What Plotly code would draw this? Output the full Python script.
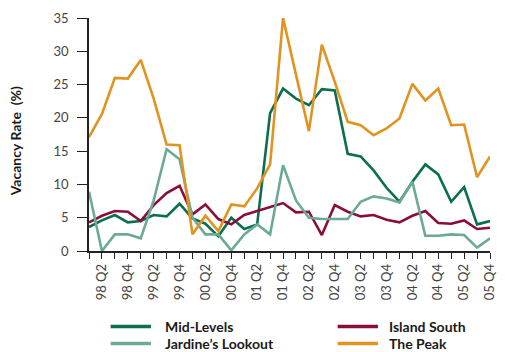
import plotly.graph_objects as go

# Quarterly periods 1998 Q1 .. 2005 Q4
quarters = [f"{y:02d} Q{q}" for y in (98, 99, 0, 1, 2, 3, 4, 5) for q in (1, 2, 3, 4)]

# Vacancy rates (%) by district
mid_levels = [3.6, 4.6, 5.4, 4.3, 4.5, 5.4, 5.2, 7.1,
              4.9, 4.1, 2.2, 5.0, 3.3, 4.0, 20.7, 24.4,
              22.9, 21.9, 24.3, 24.1, 14.6, 14.2, 12.1, 9.5,
              7.4, 10.4, 13.0, 11.5, 7.4, 9.6, 4.0, 4.5]
island_south = [4.3, 5.3, 6.0, 5.9, 4.5, 6.9, 8.7, 9.8,
                5.5, 7.0, 4.8, 4.0, 5.4, 6.0, 6.6, 7.2,
                5.8, 5.9, 2.4, 6.9, 5.9, 5.2, 5.4, 4.7,
                4.3, 5.3, 6.0, 4.2, 4.1, 4.6, 3.3, 3.5]
jardines_lookout = [8.9, 0.0, 2.5, 2.5, 1.9, 7.6, 15.3, 13.8,
                    5.0, 2.5, 2.5, 0.1, 2.5, 4.0, 2.5, 12.9,
                    7.6, 5.0, 4.8, 4.8, 4.8, 7.4, 8.2, 7.9,
                    7.3, 10.4, 2.3, 2.3, 2.5, 2.4, 0.5, 1.9]
the_peak = [17.1, 20.6, 26.0, 25.9, 28.7, 22.9, 16.0, 15.9,
            2.5, 5.3, 3.0, 7.0, 6.7, 9.4, 13.0, 35.0,
            26.5, 18.0, 31.0, 25.4, 19.4, 18.9, 17.4, 18.4,
            19.9, 25.1, 22.6, 24.4, 18.9, 19.0, 11.1, 14.2]

series_names = ["Mid-Levels", "Island South", "Jardine\u2019s Lookout", "The Peak"]
series_values = [mid_levels, island_south, jardines_lookout, the_peak]
series_colors = ["#0b6e4f", "#8a0d3c", "#6aaa96", "#e2921e"]

tick_text = [q if q.endswith(("Q2", "Q4")) else "" for q in quarters]

FONT = "Lato, 'Open Sans', sans-serif"

fig = go.Figure()
for name, vals, col in zip(series_names, series_values, series_colors):
    fig.add_trace(go.Scatter(
        x=quarters, y=vals, mode="lines", name=name,
        line=dict(color=col, width=2.6), showlegend=False,
    ))

W, H = 505, 352
L, R, T, B = 89, 8, 18, 101
pw, ph = W - L - R, H - T - B

fig.update_layout(
    width=W, height=H,
    margin=dict(l=L, r=R, t=T, b=B),
    paper_bgcolor="white", plot_bgcolor="white",
    font=dict(family=FONT, size=13, color="#444444"),
    xaxis=dict(
        type="category", range=[0, len(quarters) - 1],
        tickmode="array", tickvals=quarters, ticktext=tick_text,
        tickangle=-90, ticks="outside", ticklen=6, tickwidth=1.2, tickcolor="#222222",
        showline=True, linecolor="#222222", linewidth=1.5,
        showgrid=False, zeroline=False,
        tickfont=dict(size=13, color="#444444"),
    ),
    yaxis=dict(
        range=[0, 35], tickmode="array", tickvals=[0, 5, 10, 15, 20, 25, 30, 35],
        ticks="outside", ticklen=10, tickwidth=1.2, tickcolor="#222222",
        showline=True, linecolor="#222222", linewidth=1.5,
        showgrid=False, zeroline=False, ticklabelstandoff=6,
        tickfont=dict(size=13, color="#444444"),
    ),
)

# Y-axis title
fig.add_annotation(
    text="<b>Vacancy Rate  (%)</b>", textangle=-90,
    xref="paper", yref="paper",
    x=(14 - L) / pw, y=(T + ph - 141) / ph,
    xanchor="center", yanchor="middle", showarrow=False,
    font=dict(family=FONT, size=14, color="#1a1a1a"),
)

# Two-column legend below the plot
legend_cols = [(111, 152, 164), (342, 383, 392)]
legend_rows = [326.5, 343.5]
for i, (name, col) in enumerate(zip(series_names, series_colors)):
    x0, x1, xt = legend_cols[i % 2]
    yp = legend_rows[i // 2]
    fig.add_shape(
        type="line", xref="paper", yref="paper",
        x0=(x0 - L) / pw, x1=(x1 - L) / pw,
        y0=(T + ph - yp) / ph, y1=(T + ph - yp) / ph,
        line=dict(color=col, width=3.5),
    )
    fig.add_annotation(
        text=f"<b>{name}</b>", xref="paper", yref="paper",
        x=(xt - L) / pw, y=(T + ph - yp) / ph,
        xanchor="left", yanchor="middle", showarrow=False,
        font=dict(family=FONT, size=14, color="#1a1a1a"),
    )

fig.write_html("out.html")
